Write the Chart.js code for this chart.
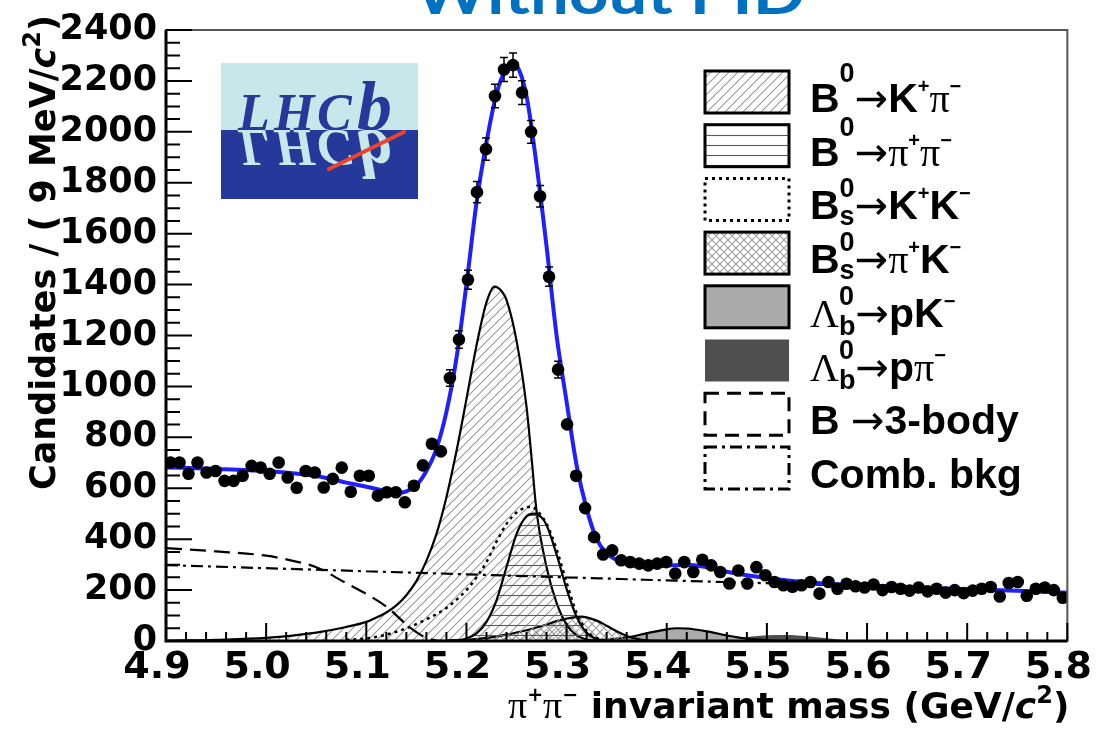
<!DOCTYPE html>
<html lang="en">
<head>
<meta charset="UTF-8">
<title>Without PID - pi+pi- invariant mass</title>
<script src="https://cdn.jsdelivr.net/npm/chart.js"></script>
<style>
  html, body { margin: 0; padding: 0; background: #fff; }
  #wrap { width: 1105px; height: 733px; }
</style>
</head>
<body>
<div id="wrap"><canvas id="massPlot" width="1105" height="733"></canvas></div>
<script>
// binning: 9 MeV bins between 4.9 and 5.8 GeV
const massMin = 4.9, massMax = 5.8, binWidth = 0.009;
const countMax = 2400;
const xTickStep = 0.1, yTickStep = 200;

// candidates per bin
const candidates = [
  701, 701, 657, 701, 662, 668, 629, 629, 649, 688,
  681, 657, 701, 642, 602, 668, 662, 603, 637, 681,
  586, 649, 649, 571, 584, 584, 545, 610, 690, 775,
  745, 1033, 1184, 1419, 1763, 1932, 2141, 2245, 2262, 2154,
  2000, 1747, 1431, 1066, 851, 649, 522, 408, 340, 356,
  317, 310, 304, 297, 304, 310, 265, 310, 271, 319,
  297, 271, 226, 277, 226, 290, 258, 232, 219, 213,
  219, 232, 186, 232, 205, 225, 215, 210, 222, 200,
  212, 205, 198, 210, 195, 205, 190, 200, 188, 198,
  205, 212, 175, 228, 232, 178, 205, 210, 200, 170
];

// total fit
const fitX = [4.90, 4.95, 5.00, 5.05, 5.08, 5.10, 5.12, 5.13, 5.14, 5.15, 5.16, 5.17, 5.18, 5.19, 5.20, 5.21, 5.22, 5.23, 5.24, 5.245, 5.25, 5.26, 5.27, 5.28, 5.29, 5.30, 5.31, 5.32, 5.33, 5.34, 5.35, 5.36, 5.38, 5.40, 5.42, 5.44, 5.46, 5.48, 5.50, 5.55, 5.60, 5.65, 5.70, 5.75, 5.80];
const fitY = [682, 676, 667, 648, 622, 606, 588, 581, 588, 612, 668, 755, 900, 1110, 1400, 1720, 1960, 2150, 2252, 2272, 2262, 2140, 1870, 1550, 1200, 940, 690, 520, 400, 345, 318, 302, 290, 296, 300, 290, 272, 258, 247, 228, 218, 210, 203, 197, 190];

// B0 -> K+ pi-
const kpiX = [4.90, 4.95, 5.00, 5.05, 5.08, 5.10, 5.11, 5.12, 5.13, 5.14, 5.15, 5.16, 5.17, 5.18, 5.19, 5.20, 5.21, 5.22, 5.228, 5.235, 5.24, 5.25, 5.26, 5.265, 5.27, 5.28, 5.29, 5.30, 5.31, 5.32, 5.33, 5.35];
const kpiY = [2, 5, 12, 33, 55, 75, 92, 112, 140, 180, 235, 315, 420, 565, 745, 950, 1160, 1330, 1392, 1375, 1340, 1180, 920, 720, 510, 290, 150, 65, 22, 6, 1, 0];

// B0 -> pi+ pi-
const pipiX = [5.18, 5.20, 5.21, 5.22, 5.23, 5.24, 5.25, 5.26, 5.268, 5.275, 5.28, 5.29, 5.30, 5.31, 5.32, 5.33, 5.34, 5.35];
const pipiY = [0, 10, 30, 75, 160, 290, 420, 490, 500, 485, 455, 340, 205, 95, 32, 8, 2, 0];

// Bs -> K+ K-
const kkX = [5.08, 5.10, 5.12, 5.14, 5.16, 5.18, 5.20, 5.21, 5.22, 5.23, 5.24, 5.25, 5.26, 5.265, 5.27, 5.28, 5.29, 5.30, 5.31, 5.32, 5.33, 5.34, 5.35];
const kkY = [5, 10, 25, 50, 85, 130, 200, 250, 310, 390, 460, 505, 525, 528, 515, 460, 360, 230, 110, 40, 12, 3, 0];

// Bs -> pi+ K-
const pikX = [5.18, 5.20, 5.22, 5.24, 5.26, 5.28, 5.29, 5.30, 5.31, 5.315, 5.32, 5.33, 5.34, 5.35, 5.36, 5.37, 5.38, 5.40];
const pikY = [2, 5, 12, 25, 42, 65, 78, 88, 95, 96, 93, 80, 60, 38, 20, 9, 3, 0];

// Lb -> p K-
const pkX = [5.30, 5.32, 5.34, 5.36, 5.38, 5.40, 5.41, 5.42, 5.44, 5.46, 5.48, 5.50, 5.52];
const pkY = [0, 1, 5, 14, 30, 46, 50, 49, 38, 22, 9, 3, 0];

// Lb -> p pi-
const ppiX = [5.44, 5.46, 5.48, 5.50, 5.52, 5.54, 5.56, 5.58, 5.60];
const ppiY = [0, 7, 16, 23, 24, 19, 11, 4, 0];

// B -> 3-body
const threeBodyX = [4.90, 4.95, 5.00, 5.03, 5.05, 5.08, 5.10, 5.12, 5.14, 5.15, 5.16, 5.17, 5.18];
const threeBodyY = [365, 352, 335, 312, 290, 227, 185, 135, 65, 35, 12, 2, 0];

// combinatorial background
const combX = [4.90, 5.00, 5.10, 5.20, 5.30, 5.40, 5.50, 5.60, 5.70, 5.80];
const combY = [298, 286, 274, 262, 250, 238, 227, 216, 204, 193];

const pts = (xs, ys) => xs.map((x, i) => ({ x: x, y: ys[i] }));

const canvas = document.getElementById('massPlot');
const ctx0 = canvas.getContext('2d');

// hatch fills, transparent like ROOT fill styles
function makeHatch(kind) {
  const c = document.createElement('canvas');
  const s = kind === 'cross' ? 8 : (kind === 'horiz' ? 10 : 9);
  c.width = s; c.height = s;
  const g = c.getContext('2d');
  g.lineWidth = 1.1;
  g.strokeStyle = kind === 'horiz' ? '#5a5a5a' : '#9a9a9a';
  g.beginPath();
  if (kind === 'horiz') {
    g.moveTo(0, 5.5); g.lineTo(s, 5.5);
  } else {
    // "/" direction
    g.moveTo(-1, s + 1); g.lineTo(s + 1, -1);
    g.moveTo(-1, 1); g.lineTo(1, -1);
    g.moveTo(s - 1, s + 1); g.lineTo(s + 1, s - 1);
    if (kind === 'cross') {
      g.moveTo(-1, -1); g.lineTo(s + 1, s + 1);
      g.moveTo(s - 1, -1); g.lineTo(s + 1, 1);
      g.moveTo(-1, s - 1); g.lineTo(1, s + 1);
    }
  }
  g.stroke();
  return ctx0.createPattern(c, 'repeat');
}
const diagFill = makeHatch('diag');
const horizFill = makeHatch('horiz');
const crossFill = makeHatch('cross');
const pkFill = '#ababab';
const ppiFill = '#4f4f4f';

const curve = (data, extra) => Object.assign({
  data: data,
  borderColor: '#000',
  borderWidth: 2.2,
  pointRadius: 0,
  cubicInterpolationMode: 'monotone',
  fill: false
}, extra);

// fonts
const AXF = '"DejaVu Sans", sans-serif';
const HEL = '"Liberation Sans", Arial, sans-serif';
const SER = '"Liberation Serif", "DejaVu Serif", serif';

function drawRich(ctx, x, y, parts) {
  // parts: [text, font, dy, keepPen]
  let pen = x;
  parts.forEach(p => {
    ctx.font = p[1];
    ctx.fillText(p[0], pen, y + (p[2] || 0));
    if (!p[3]) pen += ctx.measureText(p[0]).width;
  });
  return pen - x;
}
function richWidth(ctx, parts) {
  let w = 0;
  parts.forEach(p => { ctx.font = p[1]; if (!p[3]) w += ctx.measureText(p[0]).width; });
  return w;
}

const LF = 'bold 41px ' + HEL;
const LSUP = 'bold 27px ' + HEL;
const LSM = 'bold 20px ' + HEL;
const LGR = '40px ' + SER;
const ARR = '40px "DejaVu Sans"';

const legendRows = [
  { fill: diagFill, dash: [], text: [['B', LF], ['0', LSUP, -30], ['\u2192', ARR], ['K', LF], ['+', LSM, -19], ['\u03c0', LGR], ['\u2212', LSM, -19]] },
  { fill: horizFill, dash: [], text: [['B', LF], ['0', LSUP, -30], ['\u2192', ARR], ['\u03c0', LGR], ['+', LSM, -19], ['\u03c0', LGR], ['\u2212', LSM, -19]] },
  { fill: null, dash: [3, 4], text: [['B', LF], ['0', LSUP, -22, true], ['s', LSUP, 6], ['\u2192', ARR], ['K', LF], ['+', LSM, -19], ['K', LF], ['\u2212', LSM, -19]] },
  { fill: crossFill, dash: [], text: [['B', LF], ['0', LSUP, -22, true], ['s', LSUP, 6], ['\u2192', ARR], ['\u03c0', LGR], ['+', LSM, -19], ['K', LF], ['\u2212', LSM, -19]] },
  { fill: pkFill, dash: [], text: [['\u039b', LGR], ['0', LSUP, -22, true], ['b', LSUP, 8], ['\u2192', ARR], ['pK', LF], ['\u2212', LSM, -19]] },
  { fill: ppiFill, dash: null, text: [['\u039b', LGR], ['0', LSUP, -22, true], ['b', LSUP, 8], ['\u2192', ARR], ['p', LF], ['\u03c0', LGR], ['\u2212', LSM, -19]] },
  { fill: null, dash: [14, 8], text: [['B ', LF], ['\u2192', ARR], ['3-body', LF]] },
  { fill: null, dash: [12, 5, 3, 5], text: [['Comb. bkg', LF]] }
];

function drawLogo(ctx) {
  const x = 221, y = 63, w = 197, h = 136, mid = 130;
  const light = '#c8e7ea', dark = '#25399b';
  ctx.fillStyle = light; ctx.fillRect(x, y, w, mid - y);
  ctx.fillStyle = dark; ctx.fillRect(x, mid, w, y + h - mid);
  const word = (color) => {
    ctx.fillStyle = color;
    ctx.font = 'italic bold 52px ' + SER;
    ctx.fillText('L', 238, mid);
    ctx.fillText('H', 274, mid);
    ctx.fillText('C', 317, mid);
    ctx.font = 'italic bold 70px ' + SER;
    ctx.fillText('b', 357, mid);
  };
  ctx.save();
  ctx.beginPath(); ctx.rect(x, y, w, mid - y + 1); ctx.clip();
  word(dark);
  ctx.restore();
  ctx.save();
  ctx.beginPath(); ctx.rect(x, mid, w, y + h - mid); ctx.clip();
  ctx.translate(0, 2 * mid); ctx.scale(1, -1);
  word(light);
  ctx.restore();
  ctx.strokeStyle = '#e8452c'; ctx.lineWidth = 4; ctx.lineCap = 'round';
  ctx.beginPath(); ctx.moveTo(329, 169); ctx.lineTo(404, 132); ctx.stroke();
  ctx.lineCap = 'butt';
}

const decorations = {
  id: 'decorations',
  afterDatasetsDraw(chart) {
    const ctx = chart.ctx, xs = chart.scales.x, ys = chart.scales.y;
    // Poisson error bars on the data points
    ctx.save();
    ctx.strokeStyle = '#000'; ctx.lineWidth = 1.5;
    candidates.forEach((n, i) => {
      const px = xs.getPixelForValue(massMin + binWidth * (i + 0.5));
      const e = Math.sqrt(n);
      const y1 = ys.getPixelForValue(n + e), y2 = ys.getPixelForValue(n - e);
      if (y2 - y1 < 15) return;
      ctx.beginPath();
      ctx.moveTo(px, y1); ctx.lineTo(px, y2);
      ctx.moveTo(px - 4, y1); ctx.lineTo(px + 4, y1);
      ctx.moveTo(px - 4, y2); ctx.lineTo(px + 4, y2);
      ctx.stroke();
    });
    ctx.restore();
  },
  afterDraw(chart) {
    const ctx = chart.ctx, a = chart.chartArea, xs = chart.scales.x, ys = chart.scales.y;
    ctx.save();

    // frame
    ctx.strokeStyle = '#555'; ctx.lineWidth = 2;
    ctx.strokeRect(a.left, a.top, a.right - a.left, a.bottom - a.top);
    ctx.strokeStyle = '#000'; ctx.lineWidth = 3;
    ctx.beginPath();
    ctx.moveTo(a.left, a.top); ctx.lineTo(a.left, a.bottom); ctx.lineTo(a.right, a.bottom);
    ctx.stroke();

    // inward ticks
    ctx.lineWidth = 2;
    ctx.beginPath();
    for (let k = 0; k <= 45; k++) {
      const px = xs.getPixelForValue(massMin + k * 0.02);
      const len = k % 5 === 0 ? 18 : 9;
      ctx.moveTo(px, a.bottom); ctx.lineTo(px, a.bottom - len);
    }
    for (let k = 0; k <= 48; k++) {
      const py = ys.getPixelForValue(k * 50);
      const len = k % 4 === 0 ? 26 : 14;
      ctx.moveTo(a.left, py); ctx.lineTo(a.left + len, py);
    }
    ctx.stroke();

    ctx.fillStyle = '#000';
    ctx.textBaseline = 'alphabetic';
    ctx.textAlign = 'left';

    // x-axis title, right aligned to the frame
    const xf = 'bold 36px ' + AXF;
    const xTitle = [['\u03c0', '38px ' + SER], ['+', 'bold 19px ' + AXF, -17], ['\u03c0', '38px ' + SER], ['\u2212', 'bold 19px ' + AXF, -17],
      [' invariant mass (GeV/', xf], ['c', 'italic bold 36px ' + AXF], ['2', 'bold 24px ' + AXF, -15], [')', xf]];
    drawRich(ctx, a.right + 2 - richWidth(ctx, xTitle), 718, xTitle);

    // y-axis title
    const yf = 'bold 35px ' + AXF;
    const yTitle = [['Candidates / ( 9 MeV/', yf], ['c', 'italic bold 35px ' + AXF], ['2', 'bold 24px ' + AXF, -15], [')', yf]];
    ctx.save();
    ctx.translate(55, 490);
    ctx.rotate(-Math.PI / 2);
    drawRich(ctx, 0, 0, yTitle);
    ctx.restore();

    // legend
    legendRows.forEach((row, i) => {
      const bx = 705, by = 71 + 53.7 * i, bw = 84, bh = 42;
      if (row.fill) { ctx.fillStyle = row.fill; ctx.fillRect(bx, by, bw, bh); }
      if (row.dash) {
        ctx.setLineDash(row.dash);
        ctx.strokeStyle = '#000'; ctx.lineWidth = 3;
        ctx.strokeRect(bx, by, bw, bh);
        ctx.setLineDash([]);
      }
      ctx.fillStyle = '#000';
      drawRich(ctx, 810, by + 41, row.text);
    });

    drawLogo(ctx);

    // title, cut by the top edge
    ctx.fillStyle = '#0070c0';
    ctx.font = 'bold 56px Lato, "Open Sans", sans-serif';
    const tw = ctx.measureText('Without PID').width;
    ctx.save();
    ctx.translate(610, 14);
    ctx.scale(390 / tw, 1);
    ctx.textAlign = 'center';
    ctx.fillText('Without PID', 0, 0);
    ctx.restore();

    ctx.restore();
  }
};

new Chart(canvas, {
  type: 'line',
  data: {
    datasets: [
      {
        label: 'Data',
        data: candidates.map((n, i) => ({ x: massMin + binWidth * (i + 0.5), y: n })),
        showLine: false,
        pointRadius: 6.3,
        pointBackgroundColor: '#000',
        pointBorderWidth: 0
      },
      curve(pts(fitX, fitY), { label: 'Total fit', borderColor: '#1f1fff', borderWidth: 4 }),
      curve(pts(combX, combY), { label: 'Comb. bkg', borderDash: [12, 5, 3, 5] }),
      curve(pts(threeBodyX, threeBodyY), { label: 'B -> 3-body', borderDash: [16, 8] }),
      curve(pts(kkX, kkY), { label: 'Bs -> K+K-', borderDash: [3, 4], borderWidth: 2.5 }),
      curve(pts(pipiX, pipiY), { label: 'B0 -> pi+pi-', fill: 'origin', backgroundColor: horizFill }),
      curve(pts(kpiX, kpiY), { label: 'B0 -> K+pi-', fill: 'origin', backgroundColor: diagFill }),
      curve(pts(pikX, pikY), { label: 'Bs -> pi+K-', fill: 'origin', backgroundColor: crossFill }),
      curve(pts(pkX, pkY), { label: 'Lb -> pK-', fill: 'origin', backgroundColor: pkFill }),
      curve(pts(ppiX, ppiY), { label: 'Lb -> ppi-', fill: 'origin', backgroundColor: ppiFill, borderColor: 'rgba(0,0,0,0)', borderWidth: 0 })
    ]
  },
  options: {
    responsive: false,
    animation: false,
    events: [],
    layout: { padding: { top: 27, right: 28, left: 0, bottom: 0 } },
    plugins: {
      legend: { display: false },
      tooltip: { enabled: false },
      title: { display: false }
    },
    scales: {
      x: {
        type: 'linear',
        min: massMin,
        max: massMax,
        afterFit: s => { s.height = 92; },
        grid: { display: false, drawTicks: false },
        border: { display: false },
        ticks: {
          stepSize: xTickStep,
          padding: 4,
          labelOffset: -9,
          maxRotation: 0,
          autoSkip: false,
          color: '#000',
          font: { family: 'DejaVu Sans', weight: 'bold', size: 38 },
          callback: v => Number(v).toFixed(1)
        }
      },
      y: {
        min: 0,
        max: countMax,
        afterFit: s => { s.width = 166; },
        grid: { display: false, drawTicks: false },
        border: { display: false },
        ticks: {
          stepSize: yTickStep,
          padding: 9,
          color: '#000',
          font: { family: 'DejaVu Sans', weight: 'bold', size: 35 },
          callback: v => String(v)
        }
      }
    }
  },
  plugins: [decorations]
});
</script>
</body>
</html>
